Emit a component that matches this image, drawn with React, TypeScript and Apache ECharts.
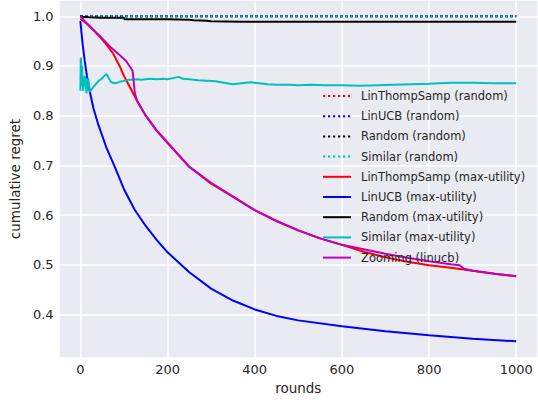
import React, { useEffect, useRef } from "react";
import * as echarts from "echarts";

// ---- data ----
const randomRounds = [0, 100, 200, 300, 400, 500, 600, 700, 800, 900, 1000];
const linThompRandom = [1.0, 1.0, 1.0, 1.0, 1.0, 1.0, 1.0, 1.0, 1.0, 1.0, 1.0];
const linUCBRandom = [1.0, 1.0, 1.0, 1.0, 1.0, 1.0, 1.0, 1.0, 1.0, 1.0, 1.0];
const randomRandom = [1.0, 1.0, 1.0, 1.0, 1.0, 1.0, 1.0, 1.0, 1.0, 1.0, 1.0];
const similarRandom = [1.0, 1.0, 1.0, 1.0, 1.0, 1.0, 1.0, 1.0, 1.0, 1.0, 1.0];

const linUCBRounds = [0, 5, 10, 15, 20, 30, 40, 50, 60, 80, 100, 125, 150, 175, 200, 250, 300, 350, 400, 450, 500, 600, 700, 800, 900, 1000];
const linUCBMax = [0.99, 0.945, 0.91, 0.88, 0.855, 0.815, 0.785, 0.76, 0.735, 0.695, 0.652, 0.61, 0.578, 0.55, 0.525, 0.485, 0.452, 0.428, 0.41, 0.397, 0.388, 0.376, 0.366, 0.358, 0.351, 0.346];

const linThompRounds = [0, 15, 30, 45, 60, 75, 90, 100, 115, 130, 150, 175, 200, 250, 300, 350, 400, 450, 500, 550, 600, 650, 700, 750, 800, 850, 875, 900, 950, 1000];
const linThompMax = [0.995, 0.985, 0.972, 0.958, 0.943, 0.925, 0.9, 0.88, 0.855, 0.83, 0.8, 0.77, 0.745, 0.697, 0.663, 0.637, 0.61, 0.588, 0.569, 0.553, 0.54, 0.526, 0.515, 0.506, 0.499, 0.494, 0.491, 0.488, 0.482, 0.477];

const zoomingRounds = [0, 10, 25, 45, 70, 90, 105, 115, 120, 125, 130, 140, 150, 175, 200, 250, 300, 350, 400, 450, 500, 550, 600, 650, 700, 750, 800, 850, 870, 880, 900, 950, 1000];
const zoomingLinucb = [1.0, 0.99, 0.977, 0.96, 0.937, 0.922, 0.91, 0.897, 0.89, 0.845, 0.83, 0.815, 0.8, 0.77, 0.746, 0.697, 0.665, 0.637, 0.61, 0.588, 0.569, 0.553, 0.54, 0.531, 0.522, 0.514, 0.507, 0.501, 0.499, 0.492, 0.488, 0.482, 0.477];

const randomMaxRounds = [0, 5, 20, 50, 100, 101, 150, 200, 250, 260, 290, 300, 370, 500, 700, 1000];
const randomMax = [1.0, 0.999, 0.998, 0.997, 0.997, 0.994, 0.994, 0.994, 0.993, 0.992, 0.991, 0.99, 0.989, 0.989, 0.989, 0.989];

const similarRounds = [0, 1, 2, 3, 4, 5, 6, 8, 10, 12, 14, 16, 18, 20, 22, 25, 30, 35, 40, 45, 50, 55, 60, 65, 70, 75, 80, 90, 100, 110, 120, 130, 140, 150, 160, 175, 190, 200, 210, 220, 226, 235, 250, 270, 290, 310, 330, 350, 370, 390, 410, 430, 450, 480, 500, 530, 560, 600, 640, 680, 720, 760, 800, 850, 900, 950, 1000];
const similarMax = [0.85, 0.917, 0.905, 0.86, 0.9, 0.875, 0.85, 0.86, 0.88, 0.87, 0.845, 0.86, 0.875, 0.862, 0.848, 0.852, 0.858, 0.863, 0.868, 0.872, 0.875, 0.88, 0.884, 0.876, 0.868, 0.866, 0.865, 0.868, 0.87, 0.872, 0.872, 0.873, 0.872, 0.873, 0.874, 0.873, 0.874, 0.873, 0.875, 0.877, 0.878, 0.874, 0.873, 0.871, 0.87, 0.869, 0.866, 0.863, 0.865, 0.867, 0.865, 0.863, 0.862, 0.862, 0.861, 0.862, 0.861, 0.861, 0.86, 0.861, 0.862, 0.863, 0.864, 0.866, 0.866, 0.865, 0.865];

const xTicks = [0, 200, 400, 600, 800, 1000];
const yTicks = [0.4, 0.5, 0.6, 0.7, 0.8, 0.9, 1.0];

const zip = (xs: number[], ys: number[]) => xs.map((x, i) => [x, ys[i]]);

const TEXT = "#262626";
const FONT = "DejaVu Sans";

function line(name: string, xs: number[], ys: number[], color: string, dotted: boolean) {
  return {
    name,
    type: "line",
    data: zip(xs, ys),
    symbol: "none",
    smooth: false,
    lineStyle: { color, width: dotted ? 2.2 : 2, type: dotted ? [2.2, 2.8] : "solid" },
    itemStyle: { color },
    emphasis: { disabled: true },
  };
}

export default function App() {
  const ref = useRef<HTMLDivElement>(null);
  useEffect(() => {
    if (!ref.current) return;
    const chart = echarts.init(ref.current, undefined, { renderer: "svg" });
    const near = (v: number, arr: number[]) => arr.some((t) => Math.abs(t - v) < 1e-6);
    chart.setOption({
      animation: false,
      backgroundColor: "#ffffff",
      grid: {
        left: 55,
        right: 0,
        top: 0,
        bottom: 42,
        show: true,
        backgroundColor: "#EAEAF2",
        borderWidth: 0,
      },
      xAxis: {
        type: "value",
        min: -50,
        max: 1050,
        name: "rounds",
        nameLocation: "middle",
        nameGap: 21,
        nameTextStyle: { color: TEXT, fontSize: 13.5, fontFamily: FONT },
        axisLine: { show: false },
        axisTick: { show: false },
        axisLabel: {
          color: TEXT,
          fontSize: 13,
          fontFamily: FONT,
          margin: 5,
          showMinLabel: false,
          showMaxLabel: false,
          formatter: (v: number) => (near(v, xTicks) ? String(Math.round(v)) : ""),
        },
        splitLine: { show: true, lineStyle: { color: "#ffffff", width: 1.5 } },
      },
      yAxis: {
        type: "value",
        min: 0.3123,
        max: 1.0327,
        name: "cumulative regret",
        nameLocation: "middle",
        nameGap: 30,
        nameRotate: 90,
        nameTextStyle: { color: TEXT, fontSize: 13.5, fontFamily: FONT },
        axisLine: { show: false },
        axisTick: { show: false },
        axisLabel: {
          color: TEXT,
          fontSize: 13,
          fontFamily: FONT,
          margin: 5,
          showMinLabel: false,
          showMaxLabel: false,
          formatter: (v: number) => (near(v, yTicks) ? v.toFixed(1) : ""),
        },
        splitLine: { show: true, lineStyle: { color: "#ffffff", width: 1.5 } },
      },
      legend: {
        orient: "vertical",
        left: 317,
        top: 85,
        itemWidth: 28,
        itemHeight: 14,
        itemGap: 8.2,
        itemStyle: { opacity: 0 },
        textStyle: { color: TEXT, fontSize: 11.5, fontFamily: FONT, padding: [0, 0, 0, 5] },
        selectedMode: false,
      },
      series: [
        line("LinThompSamp (random)", randomRounds, linThompRandom, "#FF0000", true),
        line("LinUCB (random)", randomRounds, linUCBRandom, "#0000FF", true),
        line("Random (random)", randomRounds, randomRandom, "#000000", true),
        line("Similar (random)", randomRounds, similarRandom, "#00BFBF", true),
        line("LinThompSamp (max-utility)", linThompRounds, linThompMax, "#FF0000", false),
        line("LinUCB (max-utility)", linUCBRounds, linUCBMax, "#0000FF", false),
        line("Random (max-utility)", randomMaxRounds, randomMax, "#000000", false),
        line("Similar (max-utility)", similarRounds, similarMax, "#00BFBF", false),
        line("Zooming (linucb)", zoomingRounds, zoomingLinucb, "#BF00BF", false),
      ],
    });
    return () => chart.dispose();
  }, []);
  return (
    <div
      ref={ref}
      style={{ position: "fixed", left: 0, top: 0, width: 538, height: 400 }}
    />
  );
}
